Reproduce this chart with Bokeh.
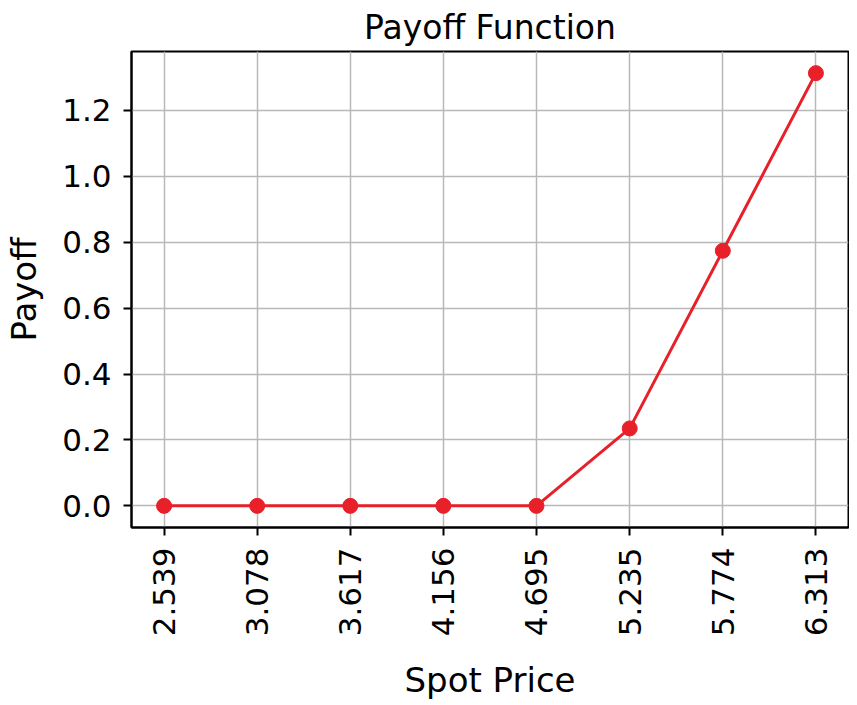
import math
from bokeh.plotting import figure
from bokeh.models import Range1d, FixedTicker, PrintfTickFormatter
from bokeh.embed import file_html
from bokeh.resources import INLINE

spot_prices = [2.539, 3.078, 3.617, 4.156, 4.695, 5.235, 5.774, 6.313]
payoffs = [0.0, 0.0, 0.0, 0.0, 0.0, 0.235, 0.774, 1.313]
y_ticks = [0.0, 0.2, 0.4, 0.6, 0.8, 1.0, 1.2]

title_text = "Payoff Function"
x_label = "Spot Price"
y_label = "Payoff"

FONT = "DejaVu Sans"
RED = "#e8202a"

xspan = max(spot_prices) - min(spot_prices)
yspan = max(payoffs) - min(payoffs)
x0, x1 = min(spot_prices) - 0.05 * xspan, max(spot_prices) + 0.05 * xspan
y0, y1 = min(payoffs) - 0.05 * yspan, max(payoffs) + 0.05 * yspan

p = figure(width=849, height=703, output_backend="svg", toolbar_location=None,
           x_range=Range1d(x0, x1), y_range=Range1d(y0, y1),
           min_border_left=131, min_border_right=1, min_border_top=47,
           min_border_bottom=150)

p.title.text = title_text
p.title.align = "center"
p.title.text_font = FONT
p.title.text_font_size = "33px"
p.title.text_font_style = "normal"
p.title.text_color = "black"
p.title.standoff = 10

p.line(spot_prices, payoffs, line_color=RED, line_width=3)
p.scatter(spot_prices, payoffs, size=15, fill_color=RED, line_color=RED)

# grid
for g in (p.xgrid, p.ygrid):
    g.grid_line_color = "#b8b8b8"
    g.grid_line_width = 1.5
p.xgrid.ticker = FixedTicker(ticks=spot_prices)
p.ygrid.ticker = FixedTicker(ticks=y_ticks)

p.outline_line_color = "black"
p.outline_line_width = 2
p.outline_line_alpha = 1

for ax in (p.xaxis[0], p.yaxis[0]):
    ax.axis_line_color = "black"
    ax.axis_line_width = 2
    ax.major_tick_in = 0
    ax.major_tick_out = 8
    ax.major_tick_line_width = 2
    ax.minor_tick_line_color = None
    ax.major_label_text_font = FONT
    ax.major_label_text_font_size = "31px"
    ax.major_label_text_color = "black"
    ax.axis_label_text_font = FONT
    ax.axis_label_text_font_size = "34px"
    ax.axis_label_text_font_style = "normal"
    ax.axis_label_text_color = "black"
    ax.major_label_standoff = 12

p.xaxis[0].ticker = FixedTicker(ticks=spot_prices)
p.xaxis[0].formatter = PrintfTickFormatter(format="%.3f")
p.xaxis[0].major_label_orientation = math.pi / 2
p.xaxis[0].axis_label = x_label
p.xaxis[0].axis_label_standoff = 21

p.yaxis[0].ticker = FixedTicker(ticks=y_ticks)
p.yaxis[0].formatter = PrintfTickFormatter(format="%.1f")
p.yaxis[0].axis_label = y_label
p.yaxis[0].axis_label_standoff = 15

open("out.html", "w").write(file_html(p, INLINE))
